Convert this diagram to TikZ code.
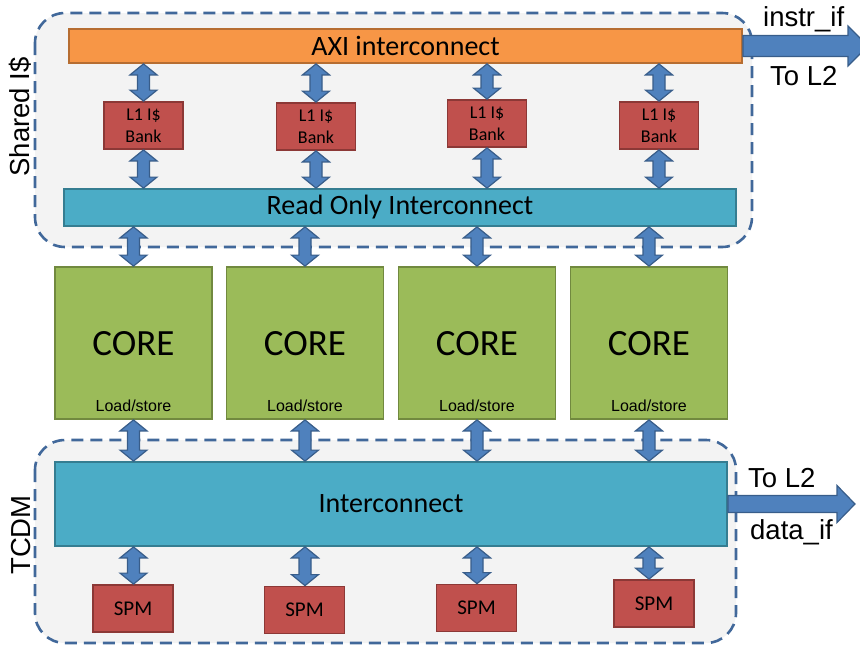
\documentclass[tikz,border=0pt]{standalone}
\usepackage{fontspec}
\setmainfont{Carlito}
\newfontfamily\labelfont{Liberation Sans}
\usetikzlibrary{calc}

\definecolor{panelgray}{HTML}{F3F3F3}
\definecolor{dashblue}{HTML}{41689A}
\definecolor{axifill}{HTML}{F79646}
\definecolor{axiline}{HTML}{B66D31}
\definecolor{bankfill}{HTML}{C0504D}
\definecolor{bankline}{HTML}{8C3836}
\definecolor{xbarfill}{HTML}{4BACC6}
\definecolor{xbarline}{HTML}{357D91}
\definecolor{corefill}{HTML}{9BBB59}
\definecolor{coreline}{HTML}{71893F}
\definecolor{arrowfill}{HTML}{4F81BD}
\definecolor{arrowline}{HTML}{385D8A}

% vertical double-headed block arrow: x taken from #1, between #2 (above) and #3 (below)
\newcommand\vlink[3]{%
  \path[blockarrow] let \p1=(#1.center), \p2=(#2.south), \p3=(#3.north) in
    (\x1,\y2) -- ({\x1+13.5pt},{\y2-11pt}) -- ({\x1+6pt},{\y2-11pt})
    -- ({\x1+6pt},{\y3+11pt}) -- ({\x1+13.5pt},{\y3+11pt}) -- (\x1,\y3)
    -- ({\x1-13.5pt},{\y3+11pt}) -- ({\x1-6pt},{\y3+11pt})
    -- ({\x1-6pt},{\y2-11pt}) -- ({\x1-13.5pt},{\y2-11pt}) -- cycle;}

% horizontal block arrow from #1.east to coordinate #2; #3 half shaft, #4 half head, #5 head length
\newcommand\hlink[5]{%
  \path[blockarrow] let \p1=(#1.east), \p2=(#2) in
    (\x1,{\y2+#3}) -- ({\x2-#5},{\y2+#3}) -- ({\x2-#5},{\y2+#4}) -- (\x2,\y2)
    -- ({\x2-#5},{\y2-#4}) -- ({\x2-#5},{\y2-#3}) -- (\x1,{\y2-#3}) -- cycle;}

\begin{document}
\begin{tikzpicture}[x=1pt,y=-1pt,
  container/.style={draw=dashblue, line width=2.6pt, dash pattern=on 12pt off 7pt,
                    fill=panelgray, rounded corners=30pt},
  box/.style={line width=1.8pt, inner sep=0pt, text=black},
  axibar/.style={box, draw=axiline, fill=axifill, font=\fontsize{28}{30}\selectfont},
  xbar/.style={box, draw=xbarline, fill=xbarfill, font=\fontsize{28}{30}\selectfont},
  bank/.style={box, draw=bankline, fill=bankfill, minimum width=79pt, minimum height=47pt,
               align=center, font=\fontsize{18}{22}\selectfont},
  spm/.style={box, draw=bankline, fill=bankfill, minimum width=80pt, minimum height=47pt,
              font=\fontsize{21}{24}\selectfont},
  core/.style={box, draw=coreline, fill=corefill, minimum width=157pt, minimum height=152pt,
               font=\fontsize{37}{40}\selectfont},
  lsnote/.style={font=\labelfont\fontsize{16}{18}\selectfont, inner sep=0pt, anchor=base},
  sidelabel/.style={font=\labelfont\fontsize{27.5}{30}\selectfont, inner sep=0pt},
  blockarrow/.style={draw=arrowline, fill=arrowfill, line width=1.2pt, line join=miter}
]
\useasboundingbox (0,0) rectangle (860,645);

% dashed group outlines
\path[container] (35,13) rectangle (752,247);
\path[container] (35,440) rectangle (736,643);

% shared instruction cache
\node[axibar, minimum width=673pt, minimum height=34pt] (axi) at (405.5,46) {AXI interconnect};
\node[xbar, minimum width=672pt, minimum height=37pt] (roi) at (400,207.5) {Read Only Interconnect};
\node[bank] (b1) at (143.5,125.5) {L1 I\$\\Bank};
\node[bank] (b2) at (316,126.5) {L1 I\$\\Bank};
\node[bank] (b3) at (487,123.5) {L1 I\$\\Bank};
\node[bank] (b4) at (659,125.5) {L1 I\$\\Bank};

% cores
\foreach \i/\cx in {1/133.5, 2/305, 3/477, 4/649} {
  \node[core] (c\i) at (\cx,343) {};
  \node at (\cx,344) [font=\fontsize{37}{40}\selectfont, inner sep=0pt] (ct\i) {CORE};
  \node[lsnote] (ls\i) at (\cx,411) {Load/store};
}

% TCDM
\node[xbar, minimum width=672pt, minimum height=84pt] (ic) at (391,504) {Interconnect};
\node[spm] (s1) at (133,608.5) {SPM};
\node[spm] (s2) at (304.5,610) {SPM};
\node[spm] (s3) at (476.5,608) {SPM};
\node[spm] (s4) at (654,603.5) {SPM};

% links
\foreach \i in {1,2,3,4} {
  \vlink{b\i}{axi}{b\i}
  \vlink{b\i}{b\i}{roi}
  \vlink{c\i}{roi}{c\i}
  \vlink{c\i}{c\i}{ic}
  \vlink{c\i}{ic}{s\i}
}

% links to L2
\coordinate (instrTip) at (868,46);
\coordinate (dataTip) at (855,504);
\hlink{axi}{instrTip}{10.5pt}{20pt}{20pt}
\hlink{ic}{dataTip}{8.5pt}{18.5pt}{18pt}

% labels
\node[sidelabel, rotate=90] (sharedLbl) at (20,117) {Shared I\$};
\node[sidelabel, rotate=90] (tcdmLbl) at (21,535) {TCDM};
\node[sidelabel, anchor=base west] (instrLbl) at (763,27) {instr\_if};
\node[sidelabel, anchor=base west] (toL2a) at (770,85) {To L2};
\node[sidelabel, anchor=base west] (toL2b) at (748,487) {To L2};
\node[sidelabel, anchor=base west] (dataLbl) at (750,539) {data\_if};
\end{tikzpicture}
\end{document}
